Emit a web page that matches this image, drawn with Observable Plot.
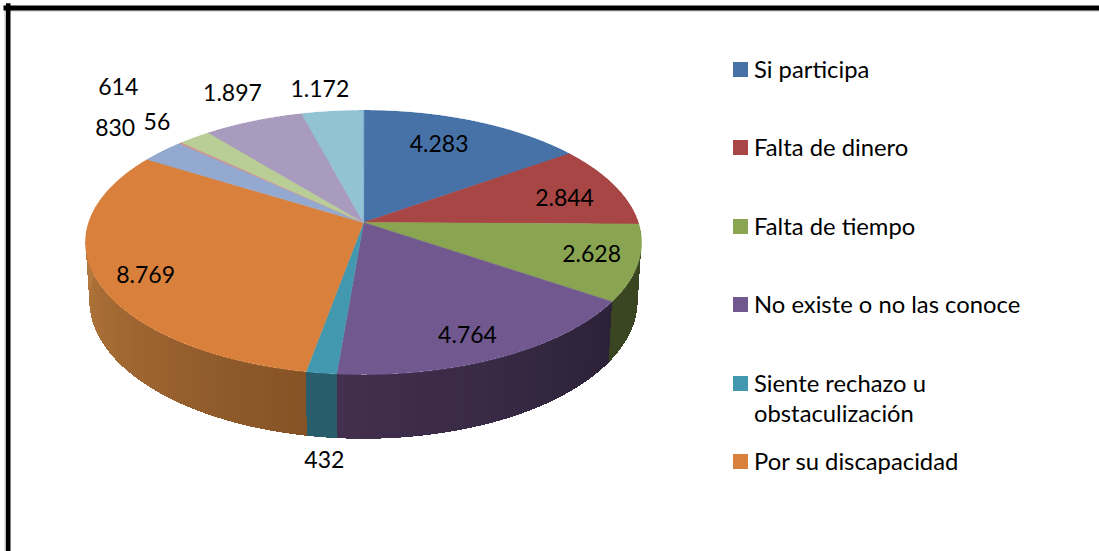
<!DOCTYPE html>
<html><head><meta charset="utf-8">
<script src="https://cdn.jsdelivr.net/npm/d3@7"></script>
<script src="https://cdn.jsdelivr.net/npm/@observablehq/plot@0.6"></script>
<style>
html,body{margin:0;padding:0;background:#fff}
#wrap{position:relative;width:1099px;height:551px;overflow:hidden}
#legend{position:absolute;left:733px;top:54px;width:300px;display:grid;grid-auto-rows:78.4px;font:23.8px/30px Lato,sans-serif;color:#000}
.row{display:flex;align-items:flex-start}
.sw{flex:none;width:15px;height:15px;margin:8px 6px 0 0}
</style></head><body><div id="wrap"><div id="chart"></div><div id="legend"></div></div>
<script>
const categories = ["Si participa","Falta de dinero","Falta de tiempo","No existe o no las conoce","Siente rechazo u obstaculización","Por su discapacidad"];
const values = [4283,2844,2628,4764,432,8769,830,56,614,1897,1172];
const labels = ["4.283","2.844","2.628","4.764","432","8.769","830","56","614","1.897","1.172"];
const topColors = ["#4672a8","#a84646","#8aa552","#71588f","#4298af","#d9813c","#93a9cf","#d19392","#b9cd96","#a99bbd","#91c3d5"];
const wallStart = ["#4672a8","#a84646","#3a4522","#2c2238","#285e6c","#865326","#93a9cf","#d19392","#b9cd96","#a99bbd","#91c3d5"];
const wallEnd   = ["#4672a8","#a84646","#3a4522","#43304f","#285e6c","#cc8a47","#93a9cf","#d19392","#b9cd96","#a99bbd","#91c3d5"];
const labelRadius = [.727,.777,.835,.843,1.446,.841,1.304,1.222,1.634,1.306,1.237];
const labelTurn = [-2.65,3.1,-.8,2.2,-3.1,-3.5,1.7,3.05,2.5,1.5,-1.3];

// perspective of the tilted disc
const tilt = 0.1515;
const project = (r, deg, k = 1, ky = 1, dy = 0) => {
  const t = deg * Math.PI / 180, u = r * Math.sin(t), v = r * Math.cos(t), w = 1 + tilt * v;
  return {x: k * u / w, y: ky * v / w - dy};
};
const bottom = deg => project(1, deg, 271 / 274.8, 134.9 / 129, 57.3 / 129);

const total = d3.sum(values);
let acc = 0;
const slices = values.map((v, i) => {
  const a0 = acc / total * 360; acc += v;
  return {i, a0, a1: acc / total * 360};
});

const topRows = [], wallRows = [];
for (const s of slices) {
  const id = "t" + s.i, fill = topColors[s.i];
  topRows.push({id, fill, ...project(0, 0)});
  for (const a of d3.range(s.a0, s.a1, .5).concat(s.a1)) topRows.push({id, fill, ...project(1, a)});
  const mix = d3.interpolateRgb(wallStart[s.i], wallEnd[s.i]);
  const steps = d3.range(s.a0, s.a1, 1.5).concat(s.a1);
  for (let j = 0; j + 1 < steps.length; j++) {
    const a = steps[j], b = steps[j + 1], id2 = `w${s.i}-${j}`;
    const c = mix((a - s.a0) / (s.a1 - s.a0));
    for (const p of [project(1, a), project(1, b), bottom(b), bottom(a)]) wallRows.push({id: id2, fill: c, ...p});
  }
}
const labelRows = slices.map(s => ({text: labels[s.i], ...project(labelRadius[s.i], (s.a0 + s.a1) / 2 + labelTurn[s.i])}));

const chart = Plot.plot({
  width: 1099, height: 551, margin: 0,
  x: {domain: [-1, 1], range: [363 - 274.8, 363 + 274.8], axis: null},
  y: {domain: [-1, 1], range: [222 + 129, 222 - 129], axis: null},
  color: {type: "identity"},
  style: {background: "#fff"},
  marks: [
    Plot.line(wallRows, {x: "x", y: "y", z: "id", fill: "fill", stroke: "none", shapeRendering: "crispEdges", curve: "linear-closed"}),
    Plot.line(topRows, {x: "x", y: "y", z: "id", fill: "fill", stroke: "fill", strokeWidth: .5, curve: "linear-closed"}),
    Plot.text(labelRows, {x: "x", y: "y", text: "text", fontSize: 23, fontFamily: "Lato, sans-serif", fill: "#000"}),
    Plot.frame({anchor: "left", stroke: "#c4c4c4", strokeWidth: 1.5, insetLeft: 4.75, insetTop: 5}),
    Plot.frame({anchor: "top", stroke: "#c4c4c4", strokeWidth: 1, insetTop: 10.5, insetLeft: 5}),
    Plot.frame({anchor: "left", stroke: "#000", strokeWidth: 4.5, insetLeft: 7.75, insetTop: 5}),
    Plot.frame({anchor: "top", stroke: "#000", strokeWidth: 5, insetTop: 7.5, insetLeft: 5.5})
  ]
});
document.getElementById("chart").appendChild(chart);

const legend = document.getElementById("legend");
categories.forEach((c, i) => {
  const row = document.createElement("div"); row.className = "row";
  const sw = document.createElement("span"); sw.className = "sw"; sw.style.background = topColors[i];
  const tx = document.createElement("span"); tx.textContent = c;
  row.append(sw, tx); legend.append(row);
});
</script></body></html>
